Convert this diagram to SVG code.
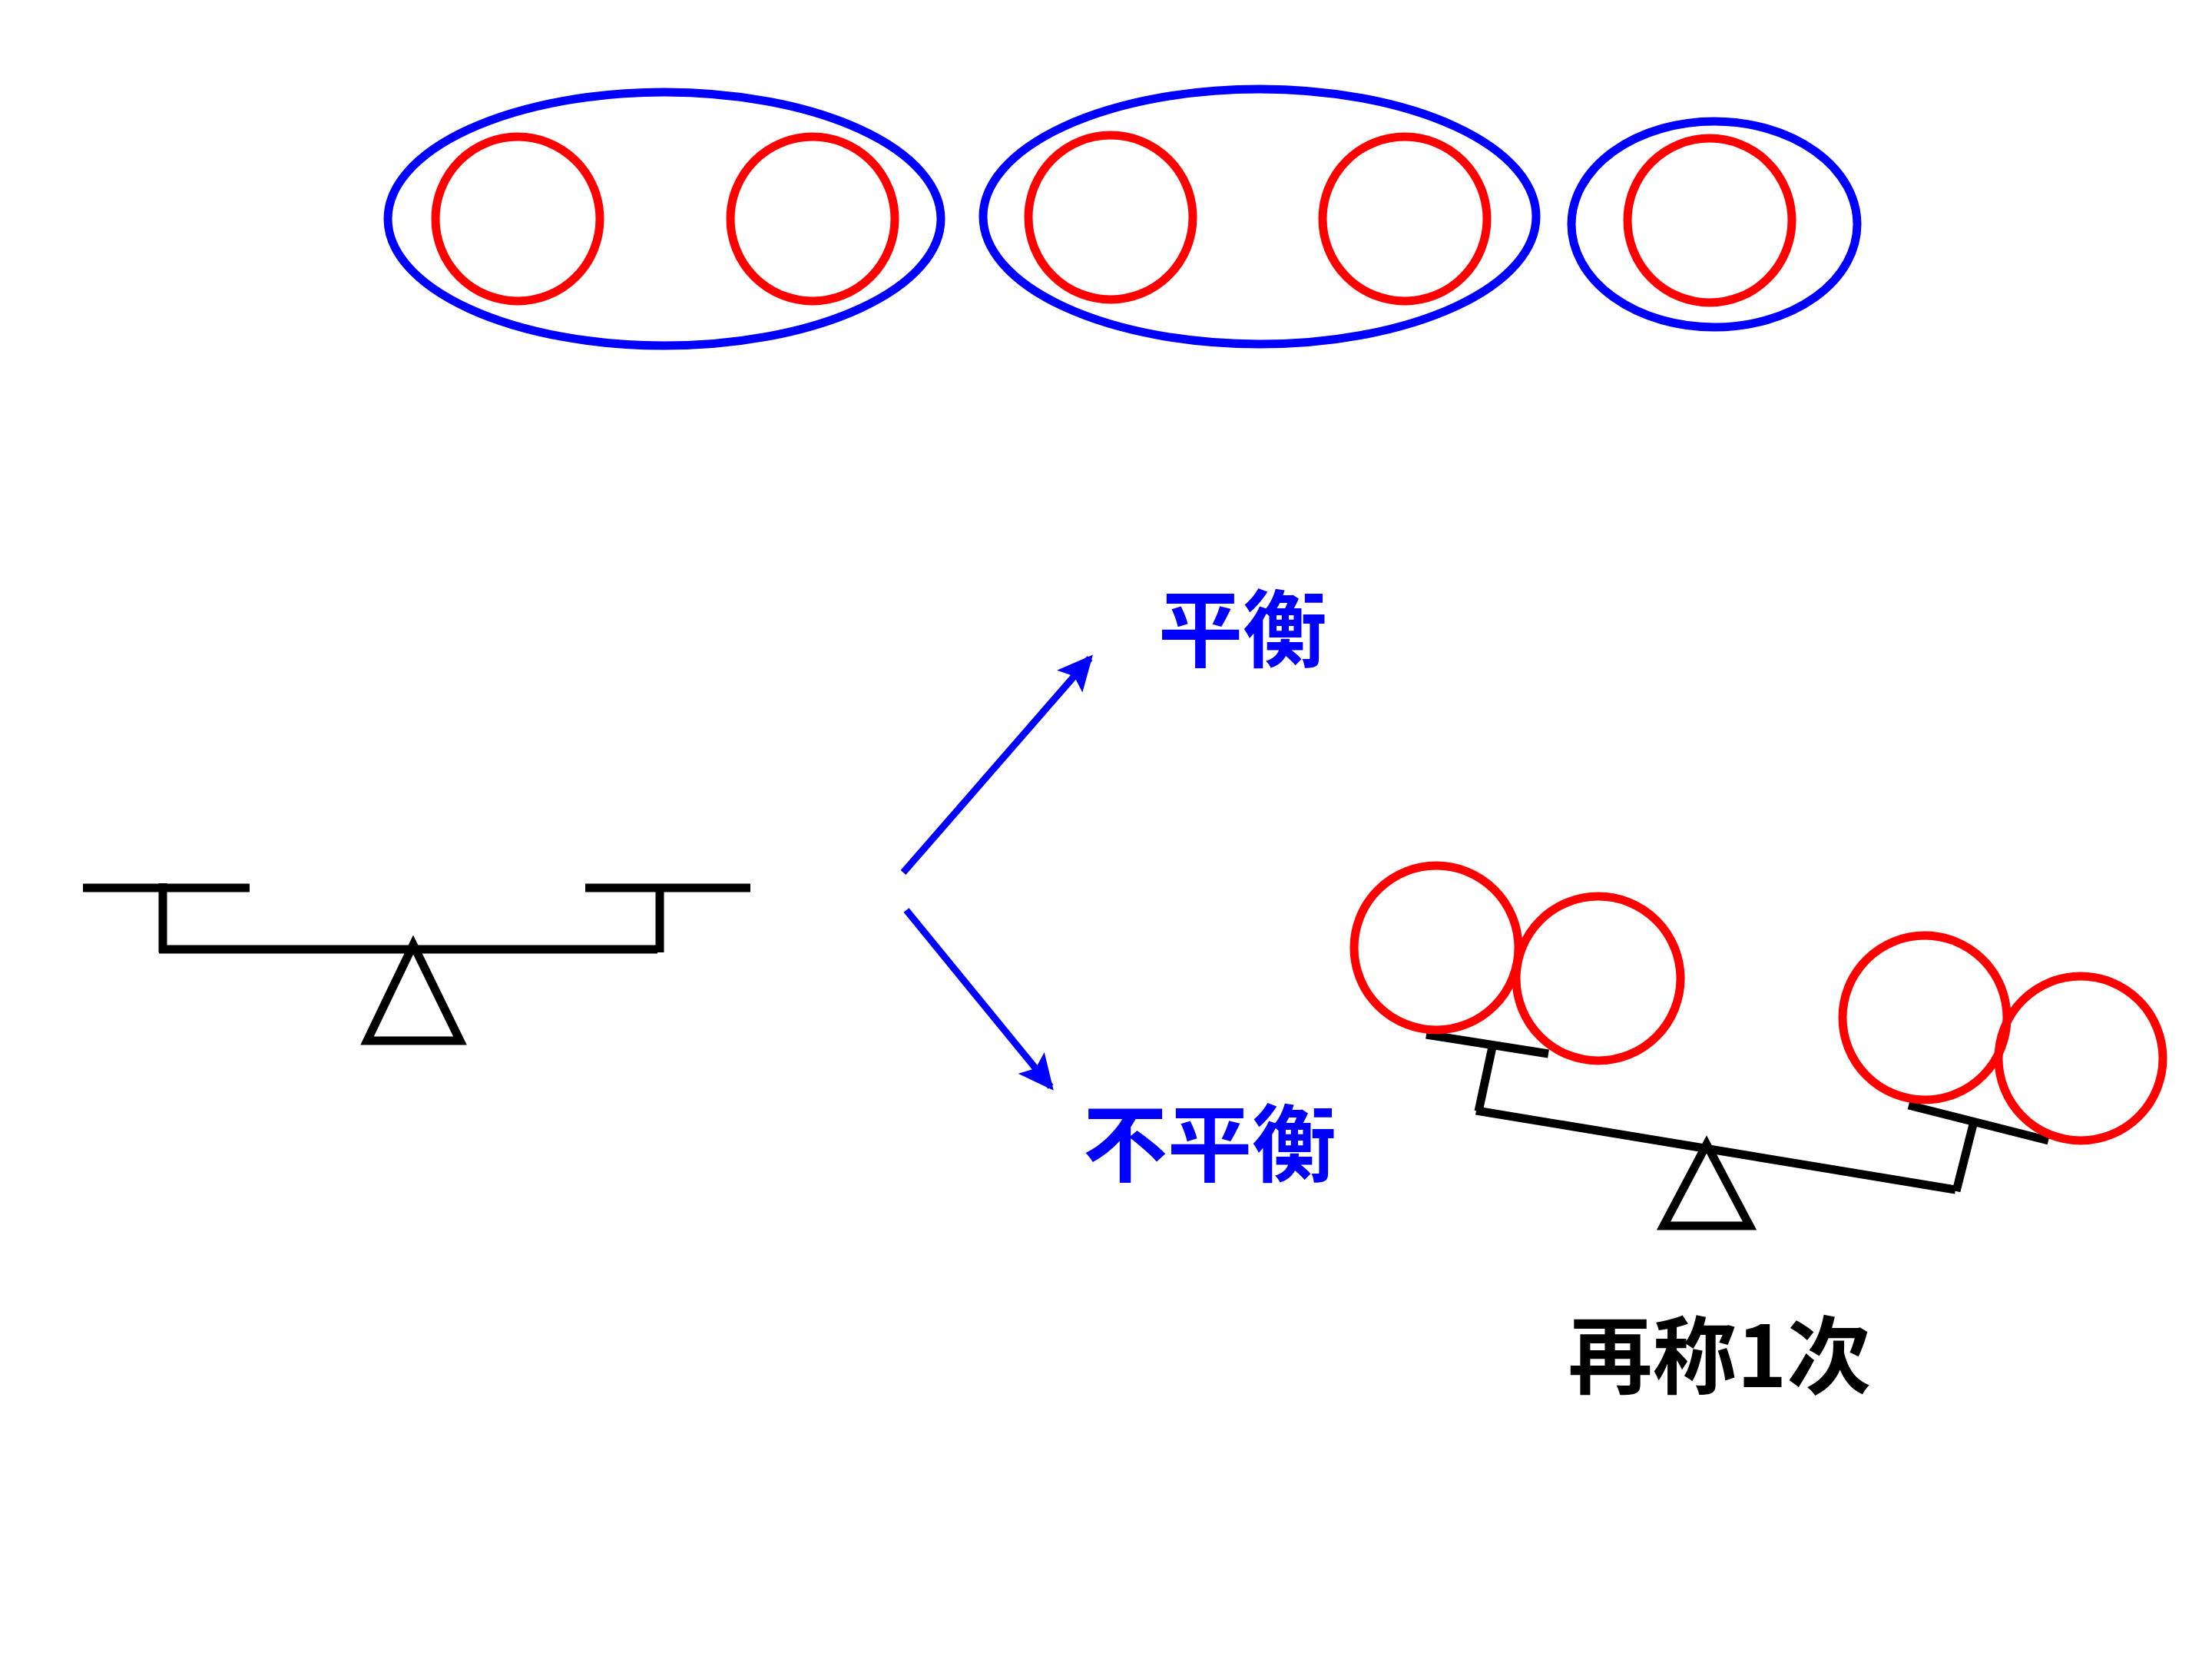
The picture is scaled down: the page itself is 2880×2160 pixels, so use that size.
<svg xmlns="http://www.w3.org/2000/svg" width="2880" height="2160" viewBox="0 0 2880 2160">
<style>
.grp{fill:none;stroke:#0000FF;stroke-width:11}
.ball{fill:none;stroke:#FF0000;stroke-width:11}
.bar{fill:none;stroke:#000;stroke-width:11;stroke-linecap:butt}
.tri{fill:none;stroke:#000;stroke-width:11;stroke-linejoin:miter}
.conn{stroke:#0000FF;stroke-width:9;fill:none}
.lbl{font-family:"Noto Sans CJK SC","Noto Sans CJK JP",sans-serif;font-weight:bold;font-size:110px;text-anchor:middle}
</style>
<defs>
<marker id="ah" markerWidth="46" markerHeight="44" refX="40" refY="22" orient="auto" markerUnits="userSpaceOnUse">
<path d="M0,0 L46,22 L0,44 L9,22 Z" fill="#0000FF"/>
</marker>
</defs>
<rect width="2880" height="2160" fill="#fff"/>
<g id="group1">
<ellipse class="grp" cx="865" cy="285" rx="360" ry="165"/>
<circle class="ball" cx="674" cy="285" r="107"/>
<circle class="ball" cx="1058" cy="285" r="107"/>
</g>
<g id="group2">
<ellipse class="grp" cx="1640" cy="282" rx="360" ry="166"/>
<circle class="ball" cx="1446" cy="283" r="107"/>
<circle class="ball" cx="1829" cy="285" r="107"/>
</g>
<g id="group3">
<ellipse class="grp" cx="2232" cy="292" rx="186" ry="134"/>
<circle class="ball" cx="2226" cy="287" r="107"/>
</g>
<g id="balance-left">
<line class="bar" x1="108" y1="1156" x2="325" y2="1156"/>
<line class="bar" x1="762" y1="1156" x2="977" y2="1156"/>
<line class="bar" x1="212" y1="1150" x2="212" y2="1240"/>
<line class="bar" x1="859" y1="1156" x2="859" y2="1240"/>
<line class="bar" x1="207" y1="1236" x2="856" y2="1236"/>
<polygon class="tri" points="538,1230 599,1355 478,1355"/>
</g>
<g id="connectors">
<line class="conn" x1="1176" y1="1136" x2="1419" y2="857" marker-end="url(#ah)"/>
<line class="conn" x1="1180" y1="1185" x2="1368" y2="1415" marker-end="url(#ah)"/>
</g>
<g id="label-balanced">
<text class="lbl" x="1618" y="860" fill="#0000FF">平衡</text>
</g>
<g id="label-unbalanced">
<text class="lbl" x="1575" y="1530" fill="#0000FF">不平衡</text>
</g>
<g id="balance-right">
<line class="bar" x1="1857" y1="1347" x2="2016" y2="1372"/>
<line class="bar" x1="1943" y1="1363" x2="1925" y2="1447"/>
<line class="bar" x1="1922" y1="1446" x2="2546" y2="1549"/>
<line class="bar" x1="2571" y1="1456" x2="2547" y2="1551"/>
<line class="bar" x1="2485" y1="1439" x2="2667" y2="1485"/>
<polygon class="tri" points="2222,1490 2278,1596 2166,1596"/>
<circle class="ball" cx="1870" cy="1234" r="107"/>
<circle class="ball" cx="2081" cy="1274" r="107"/>
<circle class="ball" cx="2506" cy="1325" r="107"/>
<circle class="ball" cx="2709" cy="1378" r="107"/>
</g>
<g id="label-reweigh">
<text class="lbl" x="2239" y="1806" fill="#000">再称1次</text>
</g>
</svg>
